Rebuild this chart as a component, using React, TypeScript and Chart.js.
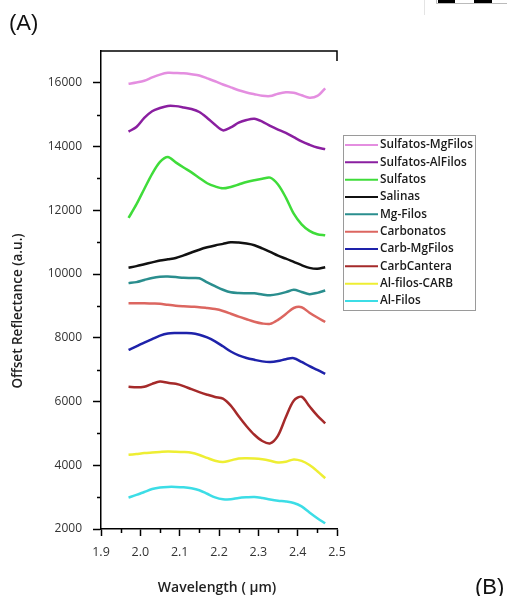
import { useEffect, useRef } from "react";
import { Chart, registerables } from "chart.js";
Chart.register(...registerables);

const wavelengths = [1.97, 1.99, 2.01, 2.03, 2.05, 2.07, 2.09, 2.11, 2.13, 2.15, 2.17, 2.19, 2.21, 2.23, 2.25, 2.27, 2.29, 2.31, 2.33, 2.35, 2.37, 2.39, 2.41, 2.43, 2.45, 2.47];

const sulfatosMgFilos = [15970, 16010, 16065, 16170, 16260, 16315, 16310, 16300, 16270, 16230, 16140, 16050, 15950, 15860, 15770, 15700, 15645, 15595, 15585, 15660, 15705, 15690, 15610, 15535, 15590, 15830];
const sulfatosAlFilos = [14470, 14615, 14900, 15110, 15210, 15275, 15270, 15230, 15180, 15085, 14900, 14685, 14510, 14600, 14750, 14835, 14874, 14784, 14650, 14536, 14432, 14298, 14162, 14058, 13970, 13920];
const sulfatos = [11760, 12185, 12670, 13145, 13520, 13675, 13505, 13345, 13190, 13015, 12850, 12750, 12690, 12735, 12810, 12890, 12945, 12990, 13025, 12810, 12400, 11895, 11560, 11355, 11250, 11215];
const salinas = [10200, 10250, 10308, 10367, 10424, 10464, 10505, 10586, 10678, 10765, 10839, 10899, 10948, 10998, 10987, 10956, 10905, 10806, 10695, 10577, 10483, 10381, 10279, 10195, 10166, 10215];
const mgFilos = [9716, 9747, 9814, 9878, 9914, 9920, 9906, 9883, 9877, 9870, 9741, 9620, 9509, 9427, 9405, 9401, 9397, 9359, 9335, 9370, 9432, 9506, 9439, 9370, 9410, 9485];
const carbonatos = [9087, 9087, 9087, 9076, 9066, 9035, 9008, 8990, 8975, 8962, 8933, 8901, 8843, 8756, 8663, 8582, 8504, 8449, 8436, 8564, 8747, 8935, 8960, 8788, 8636, 8496];
const carbMgFilos = [7619, 7731, 7849, 7961, 8070, 8136, 8150, 8151, 8146, 8097, 8012, 7890, 7733, 7570, 7451, 7368, 7310, 7260, 7241, 7269, 7330, 7360, 7243, 7108, 6993, 6870];
const carbCantera = [6466, 6445, 6465, 6556, 6625, 6587, 6557, 6485, 6387, 6295, 6215, 6143, 6091, 5872, 5537, 5225, 4957, 4762, 4689, 4933, 5516, 6026, 6150, 5850, 5558, 5315];
const alFilosCarb = [4327, 4353, 4382, 4400, 4417, 4431, 4426, 4415, 4391, 4324, 4230, 4141, 4099, 4154, 4214, 4222, 4215, 4190, 4144, 4086, 4109, 4184, 4136, 4006, 3814, 3594];
const alFilos = [2985, 3069, 3162, 3254, 3303, 3321, 3321, 3309, 3278, 3216, 3106, 2993, 2933, 2930, 2975, 2995, 3005, 2971, 2925, 2888, 2864, 2818, 2710, 2520, 2340, 2178];

const seriesNames = ["Sulfatos-MgFilos", "Sulfatos-AlFilos", "Sulfatos", "Salinas", "Mg-Filos", "Carbonatos", "Carb-MgFilos", "CarbCantera", "Al-filos-CARB", "Al-Filos"];
const seriesValues = [sulfatosMgFilos, sulfatosAlFilos, sulfatos, salinas, mgFilos, carbonatos, carbMgFilos, carbCantera, alFilosCarb, alFilos];
const seriesColors = ["#e48ee0", "#8a1fa0", "#3fdc3a", "#111111", "#2a8e8e", "#dc6660", "#1e22aa", "#a52a2a", "#eeee33", "#3cdde6"];

const xMajorTicks = [1.9, 2.0, 2.1, 2.2, 2.3, 2.4, 2.5];
const xMinorTicks = [1.95, 2.05, 2.15, 2.25, 2.35, 2.45];
const yMajorTicks = [2000, 4000, 6000, 8000, 10000, 12000, 14000, 16000];
const yMinorTicks = [3000, 5000, 7000, 9000, 11000, 13000, 15000];

const xTitle = "Wavelength ( \u00b5m)";
const yTitle = "Offset Reflectance (a.u.)";

const decorPlugin = {
  id: "decor",
  afterDraw(chart: any) {
    const { ctx, chartArea: ca, scales } = chart;
    const xs = scales.x;
    const ys = scales.y;
    ctx.save();
    ctx.strokeStyle = "#000";
    ctx.lineWidth = 1.5;
    ctx.beginPath();
    ctx.moveTo(ca.left, ca.top);
    ctx.lineTo(ca.right, ca.top);
    ctx.lineTo(ca.right, ca.top + 10);
    ctx.stroke();
    // minor ticks
    ctx.beginPath();
    yMinorTicks.forEach((v) => {
      const y = Math.round(ys.getPixelForValue(v)) + 0.5;
      ctx.moveTo(ca.left - 4, y);
      ctx.lineTo(ca.left, y);
    });
    xMinorTicks.forEach((v) => {
      const x = Math.round(xs.getPixelForValue(v)) + 0.5;
      ctx.moveTo(x, ca.bottom);
      ctx.lineTo(x, ca.bottom + 4);
    });
    ctx.stroke();

    // legend
    const lx = 343.5, ly = 135.5, lw = 132, lh = 175;
    ctx.strokeStyle = "#9a9a9a";
    ctx.lineWidth = 1;
    ctx.strokeRect(lx, ly, lw, lh);
    ctx.font = "600 11.8px 'Open Sans'";
    ctx.textBaseline = "middle";
    ctx.textAlign = "left";
    chart.data.datasets.forEach((ds: any, i: number) => {
      const y = 145 + i * 17.33;
      ctx.strokeStyle = ds.borderColor;
      ctx.lineWidth = 2;
      ctx.beginPath();
      ctx.moveTo(345, y);
      ctx.lineTo(378, y);
      ctx.stroke();
      ctx.fillStyle = "#1a1a1a";
      ctx.fillText(ds.label, 380, y);
    });

    // axis titles
    ctx.fillStyle = "#222";
    ctx.font = "600 14px 'Open Sans'";
    ctx.textAlign = "center";
    ctx.textBaseline = "alphabetic";
    ctx.fillText(xTitle, 217, 592);
    ctx.font = "600 13.5px 'Open Sans'";
    ctx.save();
    ctx.translate(22, 311);
    ctx.rotate(-Math.PI / 2);
    ctx.fillText(yTitle, 0, 0);
    ctx.restore();

    // panel letters
    ctx.fillStyle = "#111";
    ctx.font = "22px 'Liberation Sans'";
    ctx.textAlign = "left";
    ctx.fillText("(A)", 9, 29.5);
    ctx.fillText("(B)", 475, 594);

    // top-right fragment
    ctx.fillStyle = "#000";
    ctx.fillRect(438, 0, 17, 3);
    ctx.fillRect(474, 0, 18, 3);
    ctx.strokeStyle = "#bbb";
    ctx.lineWidth = 1;
    ctx.beginPath();
    ctx.moveTo(436.5, 0);
    ctx.lineTo(436.5, 3.5);
    ctx.lineTo(507, 3.5);
    ctx.stroke();
    ctx.strokeStyle = "#e4e4e4";
    ctx.beginPath();
    ctx.moveTo(424.5, 0);
    ctx.lineTo(424.5, 15);
    ctx.stroke();
    ctx.restore();
  },
};

export default function App() {
  const ref = useRef<HTMLCanvasElement | null>(null);
  useEffect(() => {
    if (!ref.current) return;
    const chart = new Chart(ref.current, {
      type: "line",
      data: {
        datasets: seriesNames.map((name, i) => ({
          label: name,
          data: wavelengths.map((w, j) => ({ x: w, y: seriesValues[i][j] })),
          borderColor: seriesColors[i],
          backgroundColor: seriesColors[i],
          borderWidth: 2.5,
          pointRadius: 0,
          fill: false,
          tension: 0.3,
        })),
      },
      options: {
        animation: false,
        responsive: false,
        devicePixelRatio: 1,
        layout: { padding: { left: 0, top: 51, right: 170, bottom: 0 } },
        plugins: { legend: { display: false }, tooltip: { enabled: false } },
        scales: {
          x: {
            type: "linear",
            min: 1.9,
            max: 2.5,
            afterBuildTicks: (s: any) => {
              s.ticks = xMajorTicks.map((value) => ({ value }));
            },
            afterFit: (s: any) => {
              s.height = 67;
            },
            ticks: {
              autoSkip: false,
              maxRotation: 0,
              padding: 9,
              color: "#333",
              font: { family: "'Open Sans'", size: 12.5 },
              callback: (v: any) => Number(v).toFixed(1),
            },
            grid: { display: true, drawOnChartArea: false, drawTicks: true, tickLength: 7, color: "#000", tickWidth: 1.5 },
            border: { display: true, color: "#000", width: 1.5 },
          },
          y: {
            type: "linear",
            min: 2000,
            max: 17000,
            afterBuildTicks: (s: any) => {
              s.ticks = yMajorTicks.map((value) => ({ value }));
            },
            afterFit: (s: any) => {
              s.width = 101;
            },
            ticks: {
              autoSkip: false,
              padding: 11,
              color: "#333",
              font: { family: "'Open Sans'", size: 12 },
              callback: (v: any) => String(v),
            },
            grid: { display: true, drawOnChartArea: false, drawTicks: true, tickLength: 8, color: "#000", tickWidth: 1.5 },
            border: { display: true, color: "#000", width: 1.5 },
          },
        },
      },
      plugins: [decorPlugin],
    });
    return () => chart.destroy();
  }, []);
  return (
    <div style={{ position: "absolute", left: 0, top: 0, width: 507, height: 596, background: "#fff" }}>
      <canvas ref={ref} width={507} height={596} style={{ display: "block", width: 507, height: 596 }} />
    </div>
  );
}
